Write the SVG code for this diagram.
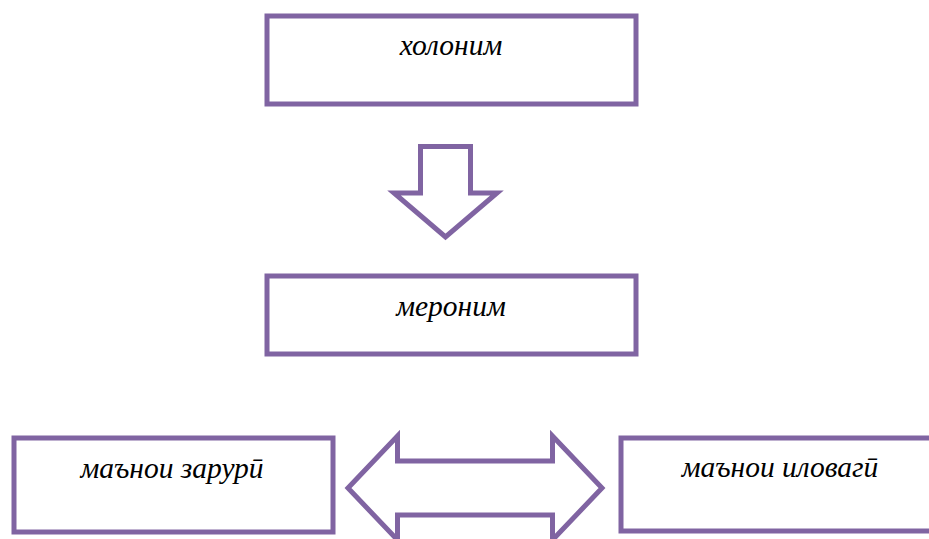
<svg xmlns="http://www.w3.org/2000/svg" width="929" height="539" viewBox="0 0 929 539">
<style>
.box{fill:#fff;stroke:#8064A2;stroke-width:5}
.arr{fill:#fff;stroke:#8064A2;stroke-width:5;stroke-linejoin:miter}
.t{font-family:"Liberation Serif","Times New Roman",serif;font-style:italic;font-size:29.5px;fill:#000;text-anchor:middle}
</style>
<rect width="929" height="539" fill="#fff"/>
<g id="holonim">
<rect class="box" x="267" y="16" width="369" height="88"/>
<text class="t" x="451" y="55">холоним</text>
</g>
<g id="meronim">
<rect class="box" x="267" y="276" width="369" height="78"/>
<text class="t" x="451" y="316">мероним</text>
</g>
<g id="zaruri">
<rect class="box" x="14" y="438" width="319" height="94"/>
<text class="t" x="172" y="478">маънои зарурӣ</text>
</g>
<g id="ilovagi">
<rect class="box" x="621" y="438" width="330" height="93"/>
<text class="t" x="780" y="477">маънои иловагӣ</text>
</g>
<g id="connectors">
<polygon class="arr" points="420.5,146.5 470.5,146.5 470.5,193 497,193 445.5,237 394,193 420.5,193"/>
<polygon class="arr" points="348,488 397.5,436 397.5,461 552.5,461 552.5,436 602,488 552.5,540 552.5,515 397.5,515 397.5,540"/>
</g>
</svg>
